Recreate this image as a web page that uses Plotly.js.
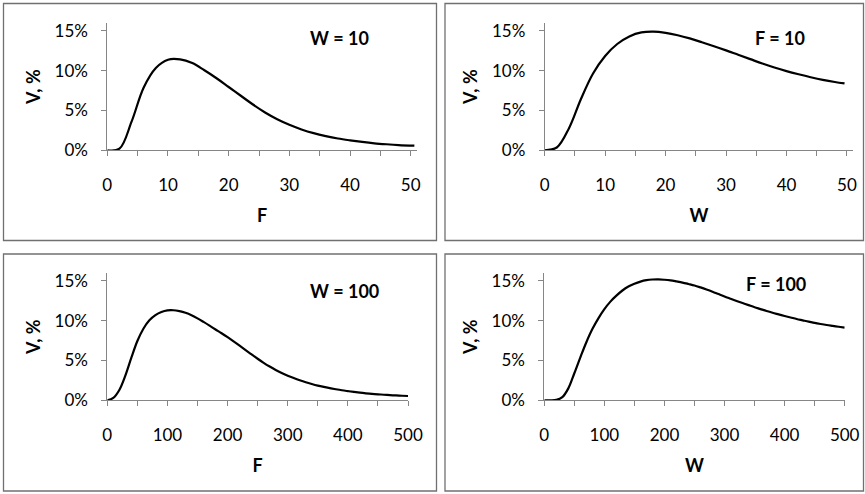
<!DOCTYPE html>
<html><head><meta charset="utf-8">
<script src="https://cdn.plot.ly/plotly-3.0.1.min.js"></script>
<style>html,body{margin:0;padding:0;background:#fff}#chart{width:865px;height:494px}</style>
</head><body><div id="chart"></div>
<script>
// Panel 1: W = 10, V (%) against F
const F_w10 = [0, 2, 4, 6, 8, 10, 12, 14, 16, 18, 20, 22, 24, 26, 28, 30, 32, 34, 36, 38, 40, 42, 44, 46, 48, 50.6];
const V_w10 = [0, 0.2, 3.6, 7.9, 10.35, 11.38, 11.42, 10.95, 10.05, 9.05, 7.95, 6.85, 5.75, 4.75, 3.9, 3.2, 2.62, 2.15, 1.78, 1.48, 1.25, 1.05, 0.88, 0.76, 0.66, 0.58];
// Panel 2: F = 10, V (%) against W
const W_f10 = [0, 2, 4, 6, 8, 10, 12, 14, 16, 18, 20, 22, 24, 26, 28, 30, 32, 34, 36, 38, 40, 42, 44, 46, 48, 49.6];
const V_f10 = [0, 0.35, 2.75, 6.45, 9.65, 11.85, 13.35, 14.3, 14.8, 14.9, 14.75, 14.45, 14.05, 13.57, 13.07, 12.55, 12.0, 11.45, 10.9, 10.4, 9.95, 9.55, 9.18, 8.85, 8.58, 8.4];
// Panel 3: W = 100, V (%) against F
const F_w100 = [0, 10, 20, 30, 40, 50, 60, 70, 80, 90, 100, 110, 120, 130, 140, 150, 160, 170, 180, 190, 200, 210, 220, 230, 240, 250, 260, 270, 280, 290, 300, 310, 320, 330, 340, 350, 360, 370, 380, 390, 400, 410, 420, 430, 440, 450, 460, 470, 480, 490, 500];
const V_w100 = [0, 0.3, 1.3, 3.1, 5.35, 7.45, 9.0, 10.05, 10.7, 11.1, 11.3, 11.32, 11.2, 11.0, 10.7, 10.3, 9.85, 9.38, 8.9, 8.43, 7.93, 7.4, 6.86, 6.31, 5.76, 5.22, 4.71, 4.24, 3.81, 3.43, 3.1, 2.8, 2.52, 2.27, 2.05, 1.85, 1.68, 1.53, 1.39, 1.26, 1.15, 1.05, 0.96, 0.88, 0.81, 0.75, 0.7, 0.65, 0.61, 0.57, 0.54];
// Panel 4: F = 100, V (%) against W
const W_f100 = [0, 10, 20, 30, 40, 50, 60, 70, 80, 90, 100, 110, 120, 130, 140, 150, 160, 170, 180, 190, 200, 210, 220, 230, 240, 250, 260, 270, 280, 290, 300, 310, 320, 330, 340, 350, 360, 370, 380, 390, 400, 410, 420, 430, 440, 450, 460, 470, 480, 490, 500];
const V_f100 = [0, 0, 0.05, 0.4, 1.5, 3.4, 5.4, 7.3, 8.95, 10.3, 11.45, 12.4, 13.15, 13.8, 14.3, 14.65, 14.92, 15.1, 15.18, 15.2, 15.15, 15.07, 14.94, 14.8, 14.62, 14.43, 14.19, 13.93, 13.65, 13.35, 13.05, 12.77, 12.49, 12.22, 11.96, 11.7, 11.46, 11.22, 11.0, 10.8, 10.6, 10.41, 10.22, 10.05, 9.88, 9.73, 9.59, 9.46, 9.35, 9.24, 9.13];

const panelLabels = ['W = 10', 'F = 10', 'W = 100', 'F = 100'];
const xTitles = ['F', 'W', 'F', 'W'];
const yTitle = 'V, %';
const xTickValsSmall = [0, 5, 10, 15, 20, 25, 30, 35, 40, 45, 50];
const xTickTextSmall = ['0', '', '10', '', '20', '', '30', '', '40', '', '50'];
const xTickValsLarge = [0, 50, 100, 150, 200, 250, 300, 350, 400, 450, 500];
const xTickTextLarge = ['0', '', '100', '', '200', '', '300', '', '400', '', '500'];
const yTickVals = [0, 5, 10, 15];
const yTickText = ['0%', '5%', '10%', '15%'];

const WID = 865, HEI = 494;
const px = v => v / WID;
const py = v => 1 - v / HEI;
const FONT = 'Lato, "Open Sans", sans-serif';

const series = [[F_w10, V_w10], [W_f10, V_f10], [F_w100, V_w100], [W_f100, V_f100]];
const traces = series.map((s, i) => ({
  x: s[0], y: s[1], type: 'scatter', mode: 'lines',
  line: {color: '#000', width: 2.2, shape: 'spline', smoothing: 1},
  xaxis: i === 0 ? 'x' : 'x' + (i + 1),
  yaxis: i === 0 ? 'y' : 'y' + (i + 1),
  hoverinfo: 'skip', showlegend: false
}));

const axCommon = {
  showline: true, linecolor: '#868686', linewidth: 1,
  ticks: 'outside', ticklen: 5, tickwidth: 1, tickcolor: '#868686',
  showgrid: false, zeroline: false, fixedrange: true,
  tickfont: {family: FONT, size: 17, color: '#000'}
};
const xDomains = [[107.3, 416.8], [544.7, 853], [107.3, 408], [544.3, 844.7]];
const yDomains = [[150.3, 22.9], [150.3, 22.9], [400.3, 273], [400.3, 273]];
const xRanges = [[0, 51], [0, 51], [0, 500], [0, 500]];

const layout = {
  width: WID, height: HEI, margin: {l: 0, r: 0, t: 0, b: 0},
  paper_bgcolor: '#fff', plot_bgcolor: 'rgba(0,0,0,0)',
  showlegend: false, annotations: [], shapes: []
};
for (let i = 0; i < 4; i++) {
  const sfx = i === 0 ? '' : String(i + 1);
  const large = i >= 2;
  layout['xaxis' + sfx] = Object.assign({}, axCommon, {
    domain: [px(xDomains[i][0]), px(xDomains[i][1])],
    range: xRanges[i], anchor: 'y' + sfx,
    tickmode: 'array',
    tickvals: large ? xTickValsLarge : xTickValsSmall,
    ticktext: large ? xTickTextLarge : xTickTextSmall,
    ticklabelstandoff: 14,
    title: {text: xTitles[i], font: {family: FONT, size: 18, color: '#000', weight: 'bold'}, standoff: 15}
  });
  layout['yaxis' + sfx] = Object.assign({}, axCommon, {
    domain: [py(yDomains[i][0]), py(yDomains[i][1])],
    range: [0, 16], anchor: 'x' + sfx,
    tickmode: 'array', tickvals: yTickVals, ticktext: yTickText,
    ticklabelstandoff: 10,
    title: {text: yTitle, font: {family: FONT, size: 18, color: '#000', weight: 'bold'}, standoff: 9}
  });
}
const labelPos = [[339, 38.5], [780, 37.5], [344, 291], [776, 284]];
labelPos.forEach((p, i) => layout.annotations.push({
  xref: 'paper', yref: 'paper', x: px(p[0]), y: py(p[1]),
  xanchor: 'center', yanchor: 'middle', showarrow: false,
  text: '<b>' + panelLabels[i] + '</b>',
  font: {family: FONT, size: 18, color: '#000'}
}));
const boxes = [[3.5, 3.5, 436.5, 240.5], [445, 3.5, 863.5, 240.5], [3.5, 254, 436.5, 491], [445, 254, 863.5, 491]];
boxes.forEach(b => layout.shapes.push({
  type: 'rect', xref: 'paper', yref: 'paper',
  x0: px(b[0]), x1: px(b[2]), y0: py(b[1]), y1: py(b[3]),
  line: {color: '#707070', width: 1.3}, fillcolor: 'rgba(0,0,0,0)', layer: 'below'
}));

Plotly.newPlot('chart', traces, layout, {staticPlot: true, displayModeBar: false});
</script>
</body></html>
